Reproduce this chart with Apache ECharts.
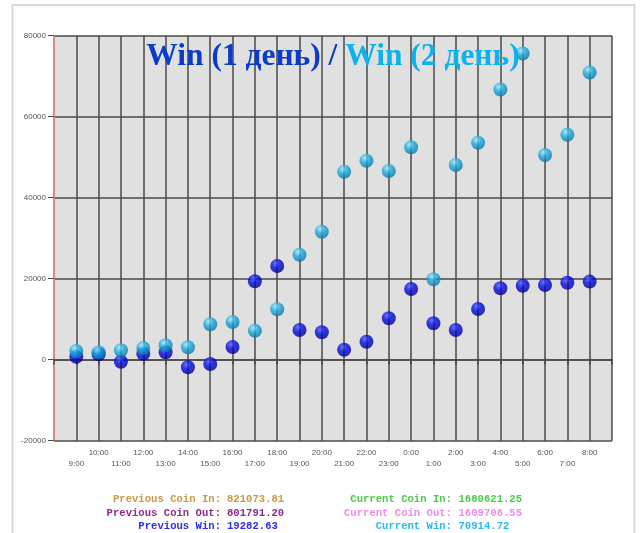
<!DOCTYPE html>
<html>
<head>
<meta charset="utf-8">
<script src="https://cdn.jsdelivr.net/npm/echarts@6/dist/echarts.min.js"></script>
<style>
  html, body { margin: 0; padding: 0; background: #fff; }
  #chart { width: 640px; height: 533px; }
</style>
</head>
<body>
<div id="chart"></div>
<script>
// Hourly slots, from 9:00 of the first day round to 8:00 of the next
const hours = ['9:00', '10:00', '11:00', '12:00', '13:00', '14:00', '15:00', '16:00',
  '17:00', '18:00', '19:00', '20:00', '21:00', '22:00', '23:00', '0:00',
  '1:00', '2:00', '3:00', '4:00', '5:00', '6:00', '7:00', '8:00'];

// Win per hour, day 1 (dark blue) and day 2 (light blue)
const winDay1 = [740, 1330, -490, 1480, 1830, -1880, -1060, 3140,
  19360, 23140, 7330, 6770, 2450, 4440, 10220, 17460,
  8990, 7330, 12520, 17630, 18270, 18440, 19010, 19282.63];
const winDay2 = [2150, 1830, 2320, 2890, 3550, 3060, 8740, 9310,
  7160, 12440, 25930, 31600, 46420, 49140, 46590, 52440,
  19850, 48070, 53580, 66700, 75600, 50540, 55550, 70914.72];

// Value axis ticks
const yMin = -20000, yMax = 80000, yStep = 20000;

// Summary figures under the chart
const prevLabels = ['Previous Coin In:', 'Previous Coin Out:', 'Previous Win:'];
const prevValues = ['821073.81', '801791.20', '19282.63'];
const prevColors = ['#c99b45', '#8e2c8e', '#2b2bff'];
const currLabels = ['Current Coin In:', 'Current Coin Out:', 'Current Win:'];
const currValues = ['1680621.25', '1609706.55', '70914.72'];
const currColors = ['#4ccc4c', '#f08cf0', '#22bbf5'];

// Empty slots at both ends give the margin columns of the grid
const categories = [''].concat(hours, ['']);

const chart = echarts.init(document.getElementById('chart'), null, { renderer: 'canvas' });

const ball = (hi, mid, edge) => new echarts.graphic.RadialGradient(0.38, 0.3, 0.72, [
  { offset: 0, color: hi },
  { offset: 0.45, color: mid },
  { offset: 1, color: edge }
]);

const monoFont = "'Liberation Mono', 'DejaVu Sans Mono', monospace";
const rowY = [499, 513, 526];
const summary = [];
for (let i = 0; i < 3; i++) {
  summary.push(
    { type: 'text', x: 221, y: rowY[i], style: { text: prevLabels[i], fill: prevColors[i], font: 'bold 10.6px ' + monoFont, textAlign: 'right', textVerticalAlign: 'middle' } },
    { type: 'text', x: 227, y: rowY[i], style: { text: prevValues[i], fill: prevColors[i], font: 'bold 10.6px ' + monoFont, textAlign: 'left', textVerticalAlign: 'middle' } },
    { type: 'text', x: 452, y: rowY[i], style: { text: currLabels[i], fill: currColors[i], font: 'bold 10.6px ' + monoFont, textAlign: 'right', textVerticalAlign: 'middle' } },
    { type: 'text', x: 458.5, y: rowY[i], style: { text: currValues[i], fill: currColors[i], font: 'bold 10.6px ' + monoFont, textAlign: 'left', textVerticalAlign: 'middle' } }
  );
}

const gridLine = { color: '#4a4a4a', width: 1.5 };

chart.setOption({
  animation: false,
  backgroundColor: '#ffffff',
  grid: { left: 54, right: 28, top: 35.7, bottom: 92.3, show: true, backgroundColor: '#e0e0e0', borderWidth: 0 },
  xAxis: {
    type: 'category',
    data: categories,
    boundaryGap: false,
    axisLine: { lineStyle: { color: '#4a4a4a', width: 1.5 } },
    axisTick: { show: true, interval: 0, length: 5, lineStyle: { color: '#4a4a4a', width: 1.5 } },
    splitLine: { show: true, interval: 0, lineStyle: gridLine },
    axisLabel: {
      interval: 0,
      margin: 6,
      color: '#555',
      fontSize: 8,
      lineHeight: 11.5,
      fontFamily: "'Liberation Sans', Arial, sans-serif",
      formatter: (v, i) => (v === '' ? '' : (i % 2 === 1 ? '\n' + v : v))
    }
  },
  yAxis: {
    type: 'value',
    min: yMin,
    max: yMax,
    interval: yStep,
    axisLine: { show: true, lineStyle: { color: '#ff8c8c', width: 1.5 } },
    axisTick: { show: true, length: 6, lineStyle: { color: '#4a4a4a', width: 1 } },
    splitLine: { show: true, lineStyle: gridLine },
    axisLabel: {
      margin: 8,
      color: '#555',
      fontSize: 8,
      fontFamily: "'Liberation Sans', Arial, sans-serif",
      formatter: v => String(v)
    }
  },
  series: [
    {
      name: 'Win (1 день)',
      type: 'scatter',
      symbol: 'circle',
      symbolSize: 14,
      data: hours.map((h, i) => [h, winDay1[i]]),
      itemStyle: { color: ball('#4a5cff', '#0008e0', '#000088') },
      z: 3
    },
    {
      name: 'Win (2 день)',
      type: 'scatter',
      symbol: 'circle',
      symbolSize: 14,
      data: hours.map((h, i) => [h, winDay2[i]]),
      itemStyle: { color: ball('#a6eaff', '#18aade', '#0a74a2') },
      z: 4
    }
  ],
  graphic: [
    { type: 'rect', shape: { x: 12.5, y: 5, width: 622, height: 540 }, style: { fill: 'none', stroke: '#d9d9d9', lineWidth: 2 }, silent: true },
    {
      type: 'text',
      x: 333,
      y: 57,
      z: 10,
      style: {
        text: '{a|Win (1 день) / }{b|Win (2 день)}',
        textAlign: 'center',
        textVerticalAlign: 'middle',
        rich: {
          a: { fill: '#0a3cc8', font: "bold 31.5px 'Liberation Serif', 'Times New Roman', serif" },
          b: { fill: '#0cb2ee', font: "bold 31.5px 'Liberation Serif', 'Times New Roman', serif" }
        }
      }
    }
  ].concat(summary)
});
</script>
</body>
</html>
